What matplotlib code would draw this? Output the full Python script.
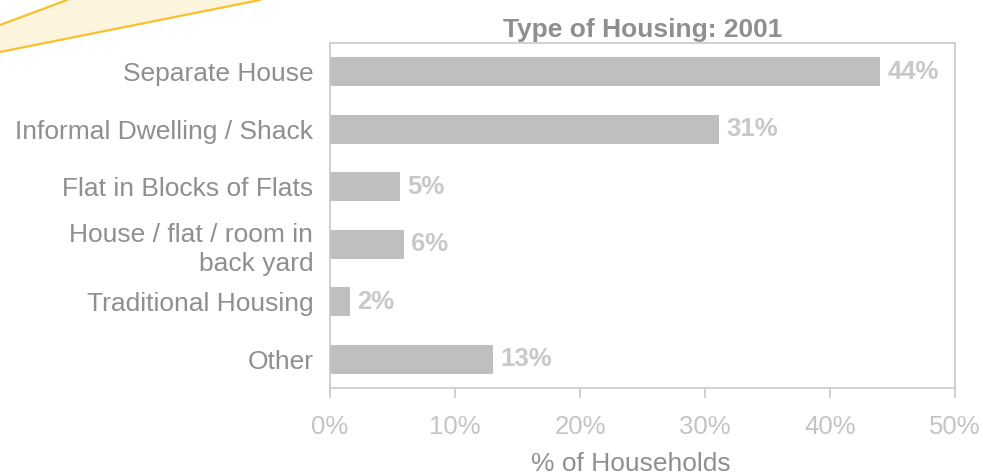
import numpy as np
import matplotlib.pyplot as plt
from matplotlib.patches import Polygon

plt.rcParams['font.family'] = ['Liberation Sans', 'DejaVu Sans']

categories = ['Separate House', 'Informal Dwelling / Shack', 'Flat in Blocks of Flats',
              'House / flat / room in\nback yard', 'Traditional Housing', 'Other']
values = [44.0, 31.1, 5.6, 5.9, 1.6, 13.0]
labels = ['44%', '31%', '5%', '6%', '2%', '13%']
xticks = [0, 10, 20, 30, 40, 50]

fig = plt.figure(figsize=(9.83, 4.76), dpi=100)
ax = fig.add_axes([330/983, 1 - 388/476, 625/983, 345/476])

# decorative slide shape in the top left corner
W, H = 983, 476
shape = [(0, 25), (67, 0), (260, 0), (0, 52)]
poly = Polygon([(x/W, 1 - y/H) for x, y in shape], closed=True, transform=fig.transFigure,
               facecolor='#fdf4de', edgecolor='none', zorder=0)
fig.patches.append(poly)
fig.add_artist(plt.Line2D([0, 67/W], [1 - 25/H, 1], color='#f7c12b', lw=1.6, transform=fig.transFigure))
fig.add_artist(plt.Line2D([0, 260/W], [1 - 52/H, 1], color='#f7c12b', lw=1.6, transform=fig.transFigure))

y = np.arange(len(categories))
ax.barh(y, values, height=0.5, color='#bfbfbf')
for yi, v, lab in zip(y, values, labels):
    ax.text(v + 0.6, yi, lab, va='center', ha='left', fontsize=18.5, fontweight='bold', color='#c8c8c8')

ax.set_xlim(0, 50)
ax.set_ylim(5.5, -0.5)
ax.set_yticks(y)
ax.set_yticklabels(categories, fontsize=19, color='#8f8f8f', linespacing=1.27)
ax.set_xticks(xticks)
ax.set_xticklabels([f'{t}%' for t in xticks], fontsize=18.5, color='#c4c4c4')
ax.tick_params(axis='y', length=0, pad=12)
ax.tick_params(axis='x', length=7, width=1.2, color='#c8c8c8', pad=12.5)
for s in ax.spines.values():
    s.set_color('#c8c8c8')
    s.set_linewidth(1.2)
ax.set_xlabel('% of Households', fontsize=19, color='#8f8f8f', labelpad=9)
ax.xaxis.label.set_x((631 - 330) / 625)
ax.set_title('Type of Housing: 2001', fontsize=19, fontweight='bold', color='#8f8f8f', pad=4)

fig.savefig('out.png', dpi=100)
